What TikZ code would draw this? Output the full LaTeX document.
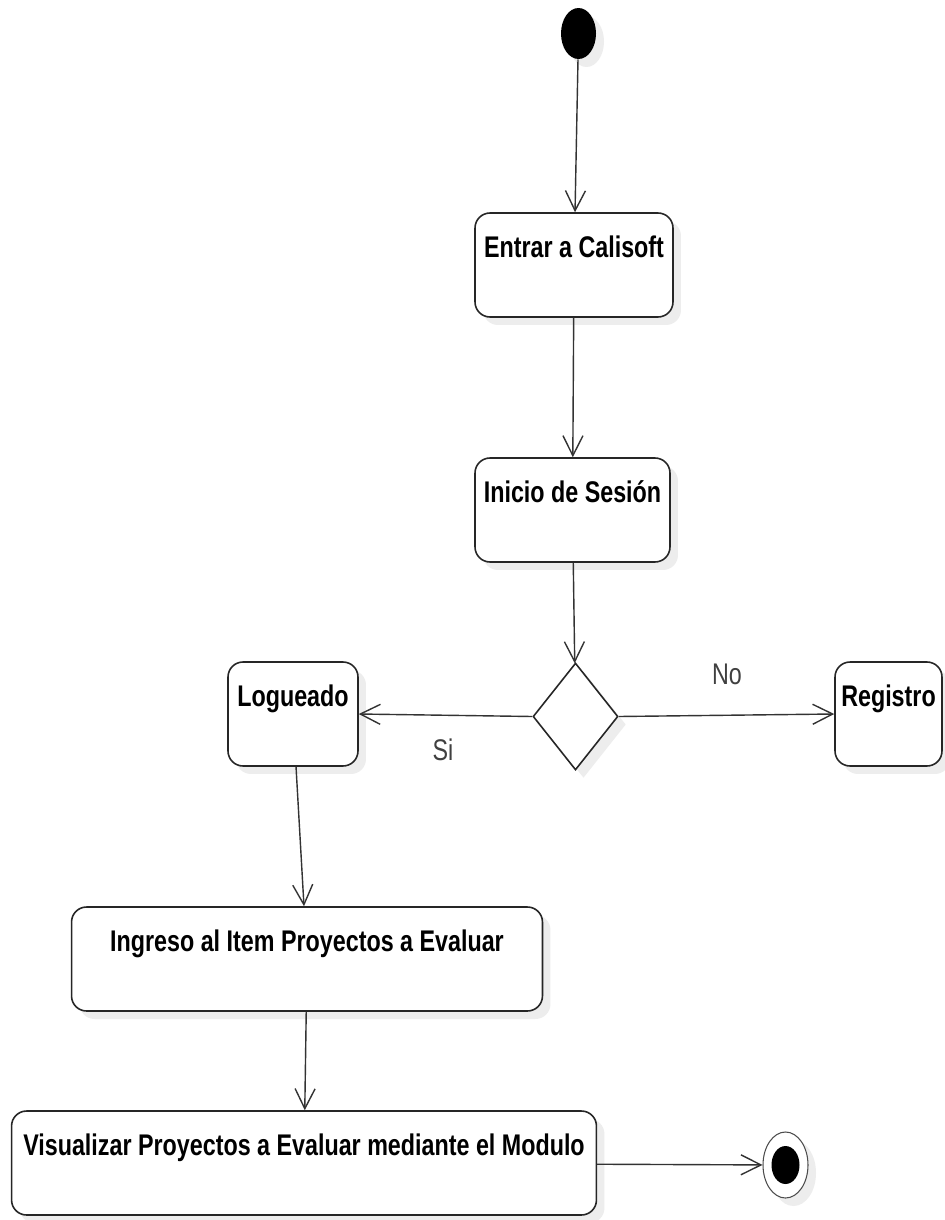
\documentclass[tikz,border=0pt]{standalone}
\usepackage{fontspec}
\usepackage{tikz}
\usetikzlibrary{shapes.geometric, arrows.meta, shadows}
\newfontfamily\actfont[FakeStretch=0.78]{Liberation Sans}

\begin{document}
\begin{tikzpicture}[x=0.02cm, y=-0.02cm,
    soft/.style={general shadow={fill=black!7, shadow xshift=0.16cm, shadow yshift=-0.16cm}},
    act/.style={draw=black!85, line width=0.9pt, rounded corners=0.3cm, fill=white, soft,
      inner xsep=2pt, inner ysep=0pt, text height=0.88cm, text depth=1.2cm,
      font=\actfont\bfseries\fontsize{17pt}{20pt}\selectfont},
    flow/.style={draw=black!80, line width=0.8pt, -{Straight Barb[length=0.4cm,width=0.4cm]}},
    guard/.style={font=\actfont\fontsize{17pt}{20pt}\selectfont, text=black!75}]
  \fill[white] (0,0) rectangle (944,1220);
  \useasboundingbox (0,0) rectangle (944,1220);
  % start and end
  \node[ellipse, fill=black, minimum width=0.7cm, minimum height=1.02cm, inner sep=0pt, soft] (ini) at (578.5,33.5) {};
  \node[ellipse, draw=black!70, line width=0.6pt, fill=white, minimum width=0.9cm, minimum height=1.32cm, inner sep=0pt, soft] (fin) at (785.5,1165) {};
  \node[ellipse, fill=black, minimum width=0.56cm, minimum height=0.76cm, inner sep=0pt] (finc) at (fin) {};
  % actions
  \node[act, minimum width=3.96cm] (entrar) at (574,265) {Entrar a Calisoft};
  \node[act, minimum width=3.9cm] (inicio) at (572.5,510) {Inicio de Sesión};
  \node[diamond, draw=black!85, line width=0.9pt, fill=white, soft, aspect=0.8, minimum width=1.7cm, minimum height=2.14cm, inner sep=0pt] (dec) at (575.5,716.5) {};
  \node[act, minimum width=2.6cm] (logueado) at (293,714) {Logueado};
  \node[act, minimum width=2.14cm] (registro) at (888.5,714) {Registro};
  \node[act, minimum width=9.42cm] (ingreso) at (307,959) {Ingreso al Item Proyectos a Evaluar};
  \node[act, minimum width=11.7cm] (visual) at (304,1163) {Visualizar Proyectos a Evaluar mediante el Modulo};
  % guards
  \node[guard] (si) at (443,750) {Si};
  \node[guard] (no) at (727,674) {No};
  % flows
  \draw[flow] (ini) -- (entrar);
  \draw[flow] (entrar) -- (inicio);
  \draw[flow] (inicio) -- (dec);
  \draw[flow] (dec.west) -- (logueado.east);
  \draw[flow] (dec.east) -- (registro.west);
  \draw[flow] (logueado) -- (ingreso);
  \draw[flow] (ingreso) -- (visual);
  \draw[flow] (visual) -- (fin);
\end{tikzpicture}
\end{document}
